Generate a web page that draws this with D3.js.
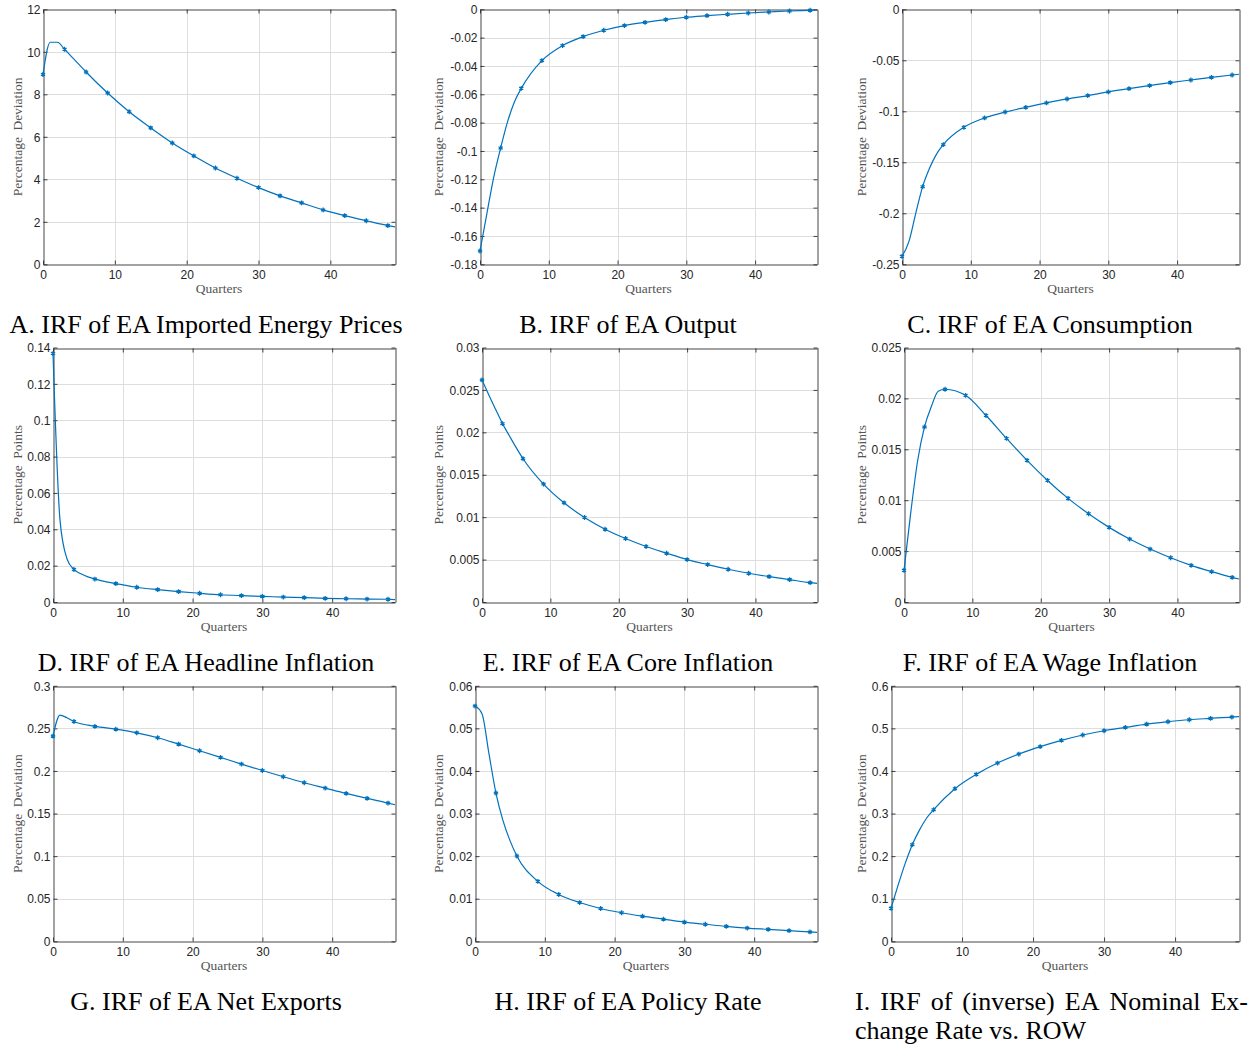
<!DOCTYPE html>
<html>
<head>
<meta charset="utf-8">
<script src="https://cdn.jsdelivr.net/npm/d3@7"></script>
<style>
  body { margin: 0; background: #fff; }
  svg { display: block; }
</style>
</head>
<body>
<div id="chart"></div>
<script>
// quarters (markers every 3rd quarter, extra points near the start)
var quarters = [0, 1, 2, 3, 4, 5, 6, 9, 12, 15, 18, 21, 24, 27, 30, 33, 36, 39, 42, 45, 48, 49];
var xTicks = [0, 10, 20, 30, 40];

var energyPrices = [8.93, 10.45, 10.45, 10.12, 9.76, 9.41, 9.05, 8.06, 7.18, 6.42, 5.71, 5.10, 4.53, 4.05, 3.61, 3.22, 2.89, 2.56, 2.29, 2.05, 1.82, 1.76];
var output = [-0.1706, -0.1442, -0.1184, -0.0979, -0.0795, -0.0654, -0.0558, -0.0362, -0.0256, -0.0193, -0.0148, -0.0115, -0.0092, -0.0073, -0.0056, -0.0045, -0.0035, -0.0026, -0.0019, -0.0012, -0.0007, -0.0005];
var consumption = [-0.2422, -0.2278, -0.2000, -0.1739, -0.1559, -0.1422, -0.1327, -0.1157, -0.1065, -0.1007, -0.0961, -0.0918, -0.0879, -0.0846, -0.0810, -0.0778, -0.0748, -0.0719, -0.0693, -0.0667, -0.0644, -0.0637];
var headlineInfl = [0.1367, 0.0452, 0.0238, 0.0179, 0.0155, 0.0138, 0.0126, 0.0101, 0.0081, 0.0068, 0.0057, 0.0048, 0.0040, 0.0035, 0.0031, 0.0027, 0.0024, 0.0020, 0.0018, 0.0016, 0.0015, 0.0013];
var coreInfl = [0.02618, 0.0244, 0.0227, 0.02102, 0.0196, 0.0182, 0.01689, 0.0139, 0.01169, 0.00996, 0.00858, 0.00748, 0.00654, 0.00575, 0.0050, 0.00441, 0.00386, 0.00339, 0.00299, 0.00264, 0.00228, 0.0022];
var wageInfl = [0.00311, 0.00885, 0.0139, 0.0172, 0.0192, 0.0207, 0.0209, 0.0203, 0.01832, 0.01607, 0.01391, 0.01194, 0.01018, 0.00867, 0.00733, 0.00618, 0.0052, 0.00435, 0.0036, 0.00298, 0.00242, 0.00226];
var netExports = [0.2409, 0.2656, 0.2624, 0.2581, 0.2554, 0.2538, 0.2523, 0.2491, 0.2448, 0.2390, 0.2315, 0.2237, 0.2159, 0.2081, 0.2006, 0.1932, 0.1862, 0.1799, 0.1736, 0.1678, 0.1623, 0.1603];
var policyRate = [0.05524, 0.05344, 0.04405, 0.03482, 0.0284, 0.0237, 0.02003, 0.01408, 0.0110, 0.0091, 0.0077, 0.0067, 0.0059, 0.0052, 0.0045, 0.0040, 0.0035, 0.0031, 0.0028, 0.0025, 0.0022, 0.0021];
var exchangeRate = [0.0775, 0.132, 0.183, 0.2269, 0.261, 0.289, 0.309, 0.3584, 0.392, 0.4186, 0.4397, 0.457, 0.4718, 0.4844, 0.4945, 0.5023, 0.510, 0.5156, 0.5203, 0.5235, 0.5266, 0.5274];

var seriesList = [energyPrices, output, consumption, headlineInfl, coreInfl, wageInfl, netExports, policyRate, exchangeRate];
var yDomains = [[0, 12], [-0.18, 0], [-0.25, 0], [0, 0.14], [0, 0.03], [0, 0.025], [0, 0.3], [0, 0.06], [0, 0.6]];
var yTickSteps = [2, 0.02, 0.05, 0.02, 0.005, 0.005, 0.05, 0.01, 0.1];
var yTitles = ["Percentage Deviation", "Percentage Deviation", "Percentage Deviation",
               "Percentage Points", "Percentage Points", "Percentage Points",
               "Percentage Deviation", "Percentage Deviation", "Percentage Deviation"];
var titles = ["A. IRF of EA Imported Energy Prices", "B. IRF of EA Output", "C. IRF of EA Consumption",
              "D. IRF of EA Headline Inflation", "E. IRF of EA Core Inflation", "F. IRF of EA Wage Inflation",
              "G. IRF of EA Net Exports", "H. IRF of EA Policy Rate",
              "I. IRF of (inverse) EA Nominal Ex-|change Rate vs. ROW"];

// plot boxes [left, top, right, bottom]
var boxes = [
    [43, 9.3, 395, 264.3], [480, 9.3, 817, 264.3], [902, 9.3, 1239, 264.3],
    [53, 347.5, 395, 602], [482, 347.5, 817, 602], [904, 347.5, 1239, 602],
    [53, 685.8, 395, 941.3], [475, 685.8, 817, 941.3], [891, 685.8, 1239, 941.3]
];
var colCenters = [206, 628, 1050];
var yLabelX = [17, 438, 861];
var titleBase = [333, 671, 1010];

var lineColor = "#0072BD";
var sansFont = "'Liberation Sans', Arial, sans-serif";
var serifFont = "'Liberation Serif', 'Times New Roman', serif";

var svg = d3.select("#chart").append("svg")
    .attr("width", 1260)
    .attr("height", 1046);

var fmt = function (v) { return String(+v.toFixed(6)); };

function drawPanel(i) {
    var b = boxes[i];
    var col = i % 3, row = Math.floor(i / 3);
    var x = d3.scaleLinear().domain([0, 49]).range([b[0], b[2]]);
    var y = d3.scaleLinear().domain(yDomains[i]).range([b[3], b[1]]);
    var step = yTickSteps[i];
    var n = Math.round((yDomains[i][1] - yDomains[i][0]) / step);
    var yTicks = d3.range(n + 1).map(function (k) { return +(yDomains[i][0] + k * step).toFixed(6); });

    var g = svg.append("g");

    // grid
    g.append("g").selectAll("line").data(xTicks.slice(1)).join("line")
        .attr("x1", function (d) { return Math.round(x(d)) + 0.5; })
        .attr("x2", function (d) { return Math.round(x(d)) + 0.5; })
        .attr("y1", b[1]).attr("y2", b[3])
        .attr("stroke", "#dedede").attr("stroke-width", 1);
    g.append("g").selectAll("line").data(yTicks.slice(1, -1)).join("line")
        .attr("x1", b[0]).attr("x2", b[2])
        .attr("y1", function (d) { return Math.round(y(d)) + 0.5; })
        .attr("y2", function (d) { return Math.round(y(d)) + 0.5; })
        .attr("stroke", "#dedede").attr("stroke-width", 1);

    // axes, ticks inward on all four sides
    var left = g.append("g").attr("transform", "translate(" + (Math.round(b[0]) + 0.5) + ",0)")
        .call(d3.axisLeft(y).tickValues(yTicks).tickFormat(fmt).tickSizeInner(-4).tickSizeOuter(0).tickPadding(3));
    var bottom = g.append("g").attr("transform", "translate(0," + (Math.round(b[3]) + 0.5) + ")")
        .call(d3.axisBottom(x).tickValues(xTicks).tickFormat(fmt).tickSizeInner(-4).tickSizeOuter(0).tickPadding(6));
    var right = g.append("g").attr("transform", "translate(" + (Math.round(b[2]) + 0.5) + ",0)")
        .call(d3.axisRight(y).tickValues(yTicks).tickFormat("").tickSizeInner(-4).tickSizeOuter(0));
    var top = g.append("g").attr("transform", "translate(0," + (Math.round(b[1]) + 0.5) + ")")
        .call(d3.axisTop(x).tickValues(xTicks).tickFormat("").tickSizeInner(-4).tickSizeOuter(0));

    [left, bottom, right, top].forEach(function (a) {
        a.selectAll("path, line").attr("stroke", "#262626").attr("stroke-width", 1).attr("stroke-opacity", 0.85);
        a.selectAll("text").attr("fill", "#262626")
            .style("font-family", sansFont).style("font-size", "12px");
    });
    left.selectAll("text").attr("dy", "0.35em");

    // axis titles
    g.append("text")
        .attr("x", (b[0] + b[2]) / 2).attr("y", b[3] + 29)
        .attr("text-anchor", "middle")
        .style("font-family", serifFont).style("font-size", "13.5px")
        .attr("fill", "#555")
        .text("Quarters");
    g.append("text")
        .attr("transform", "translate(" + yLabelX[col] + "," + ((b[1] + b[3]) / 2) + ") rotate(-90)")
        .attr("text-anchor", "middle").attr("dy", "0.35em")
        .style("font-family", serifFont).style("font-size", "13.5px").style("word-spacing", "3px")
        .attr("fill", "#555")
        .text(yTitles[i]);

    // line + markers
    var pts = quarters.map(function (q, k) { return { q: q, v: seriesList[i][k] }; });
    var line = d3.line()
        .x(function (d) { return x(d.q); })
        .y(function (d) { return y(d.v); })
        .curve(d3.curveMonotoneX);
    g.append("path").datum(pts)
        .attr("d", line)
        .attr("fill", "none")
        .attr("stroke", lineColor)
        .attr("stroke-width", 1.2);
    g.append("g").selectAll("path")
        .data(pts.filter(function (d) { return d.q % 3 === 0; }))
        .join("path")
        .attr("transform", function (d) { return "translate(" + x(d.q) + "," + y(d.v) + ")"; })
        .attr("d", d3.symbol(d3.symbolAsterisk, 16))
        .attr("fill", "none")
        .attr("stroke", lineColor)
        .attr("stroke-width", 1.3);

    // panel title
    var parts = titles[i].split("|");
    if (parts.length === 1) {
        g.append("text")
            .attr("x", colCenters[col]).attr("y", titleBase[row])
            .attr("text-anchor", "middle")
            .style("font-family", serifFont).style("font-size", "26px")
            .attr("fill", "#000")
            .text(parts[0]);
    } else {
        // justified first line, plain second line
        var x0 = 855, x1 = 1248;
        var words = parts[0].split(" ");
        var tmp = words.map(function (w) {
            return g.append("text").style("font-family", serifFont).style("font-size", "26px")
                .attr("fill", "#000").attr("y", titleBase[row]).text(w);
        });
        var widths = tmp.map(function (t) { return t.node().getComputedTextLength(); });
        var gap = (x1 - x0 - d3.sum(widths)) / (words.length - 1);
        var cx = x0;
        tmp.forEach(function (t, k) { t.attr("x", cx); cx += widths[k] + gap; });
        g.append("text")
            .attr("x", x0).attr("y", titleBase[row] + 29)
            .style("font-family", serifFont).style("font-size", "26px")
            .attr("fill", "#000")
            .text(parts[1]);
    }
}

for (var i = 0; i < 9; i++) {
    drawPanel(i);
}
</script>
</body>
</html>
